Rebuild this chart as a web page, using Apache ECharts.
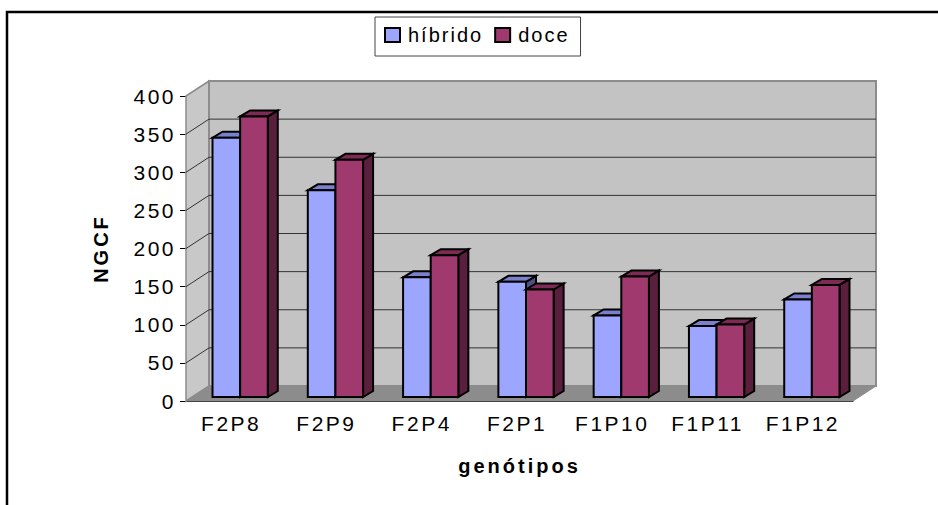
<!DOCTYPE html>
<html>
<head>
<meta charset="utf-8">
<style>
  html, body { margin: 0; padding: 0; background: #fff; }
  #chart { width: 938px; height: 505px; }
  #chart text { letter-spacing: 2.5px; }
  #chart text[style*="20px"] { letter-spacing: 2px; }
  #chart text[style*="bold"] { letter-spacing: 3px; }
</style>
<script src="https://cdn.jsdelivr.net/npm/echarts@6/dist/echarts.min.js"></script>
</head>
<body>
<div id="chart"></div>
<script>
const categories = ["F2P8", "F2P9", "F2P4", "F2P1", "F1P10", "F1P11", "F1P12"];
const hibrido = [340, 271, 157, 151, 107, 93, 128];
const doce = [368, 311, 186, 141, 158, 95, 147];
const yTicks = [0, 50, 100, 150, 200, 250, 300, 350, 400];

// fake 3d offsets, px
const WALL_DX = 23, WALL_DY = -15;
const BAR_DX = 6.5, BAR_DY = -4;
const DEPTH_DX = 10, DEPTH_DY = -6;

const poly = (points, fill, stroke, lineWidth) => ({
  type: "polygon",
  shape: { points },
  style: { fill, stroke, lineWidth, lineJoin: "miter" },
});

function renderWalls(params, api) {
  const cs = params.coordSys;
  const x0 = cs.x, x1 = cs.x + cs.width;
  const y0 = api.coord([0, 0])[1];
  const yTop = api.coord([0, 400])[1];
  const children = [
    // left wall
    poly([[x0, y0], [x0 + WALL_DX, y0 + WALL_DY], [x0 + WALL_DX, yTop + WALL_DY], [x0, yTop]], "#c8c8c8", "#8c8c8c", 1.5),
    // back wall
    poly([[x0 + WALL_DX, y0 + WALL_DY], [x1 + WALL_DX, y0 + WALL_DY], [x1 + WALL_DX, yTop + WALL_DY], [x0 + WALL_DX, yTop + WALL_DY]], "#c3c3c3", "#8c8c8c", 2),
    // floor
    poly([[x0, y0], [x1, y0], [x1 + WALL_DX, y0 + WALL_DY], [x0 + WALL_DX, y0 + WALL_DY]], "#8c8c8c", "#8c8c8c", 1),
  ];
  yTicks.slice(1, -1).forEach((v) => {
    const y = api.coord([0, v])[1];
    children.push({
      type: "polyline",
      shape: { points: [[x0, y], [x0 + WALL_DX, y + WALL_DY], [x1 + WALL_DX, y + WALL_DY]] },
      style: { fill: "none", stroke: "#333", lineWidth: 1 },
    });
  });
  return { type: "group", children };
}

function barRenderer(side, front, top, dark) {
  return function (params, api) {
    const p = api.coord([api.value(0), api.value(1)]);
    const base = api.coord([api.value(0), 0]);
    const w = api.size([1, 0])[0] * 0.29;
    const x0 = p[0] + BAR_DX + (side < 0 ? -w : 0);
    const x1 = x0 + w;
    const yT = p[1] + BAR_DY;
    const yB = base[1] + BAR_DY;
    const dx = DEPTH_DX, dy = DEPTH_DY;
    return {
      type: "group",
      children: [
        poly([[x1, yT], [x1 + dx, yT + dy], [x1 + dx, yB + dy], [x1, yB]], dark, "#000", 2),
        poly([[x0, yT], [x0 + dx, yT + dy], [x1 + dx, yT + dy], [x1, yT]], top, "#000", 2),
        poly([[x0, yT], [x1, yT], [x1, yB], [x0, yB]], front, "#000", 2),
      ],
    };
  };
}

const chart = echarts.init(document.getElementById("chart"), null, { renderer: "svg" });

chart.setOption({
  animation: false,
  backgroundColor: "#fff",
  textStyle: { fontFamily: "Liberation Sans", color: "#000" },
  graphic: [
    {
      type: "rect",
      silent: true,
      z: -10,
      shape: { x: 7, y: 12, width: 1000, height: 600 },
      style: { fill: "none", stroke: "#000", lineWidth: 2.5 },
    },
  ],
  legend: {
    top: 17,
    left: 375,
    data: [
      { name: "híbrido", icon: "rect" },
      { name: "doce", icon: "rect" },
    ],
    itemWidth: 15,
    itemHeight: 14,
    itemGap: 25,
    padding: [8, 19, 11, 9],
    borderColor: "#444",
    borderWidth: 1,
    textStyle: { fontSize: 20, fontFamily: "Liberation Sans", color: "#000", padding: [0, 0, 4, 3] },
  },
  grid: { left: 186, right: 85, top: 96, bottom: 104 },
  xAxis: {
    type: "category",
    data: categories,
    name: "genótipos",
    nameLocation: "middle",
    nameGap: 55,
    nameTextStyle: { fontSize: 20, fontWeight: "bold", fontFamily: "Liberation Sans", color: "#000" },
    axisLine: { lineStyle: { color: "#000", width: 1 } },
    axisTick: { length: 6, lineStyle: { color: "#000" } },
    axisLabel: { fontSize: 21, margin: 12, color: "#000", interval: 0, fontFamily: "Liberation Sans", padding: [0, 5, 0, 0] },
  },
  yAxis: {
    type: "value",
    min: 0,
    max: 400,
    interval: 50,
    name: "NGCF",
    nameLocation: "middle",
    nameGap: 75,
    nameTextStyle: { fontSize: 20, fontWeight: "bold", fontFamily: "Liberation Sans", color: "#000" },
    axisLine: { show: true, lineStyle: { color: "#000", width: 1 } },
    axisTick: { show: true, length: 6, lineStyle: { color: "#000" } },
    axisLabel: { fontSize: 21, margin: 10, color: "#000", fontFamily: "Liberation Sans" },
    splitLine: { show: false },
  },
  series: [
    {
      name: "walls",
      type: "custom",
      data: [[0, 0]],
      clip: false,
      z: 1,
      silent: true,
      renderItem: renderWalls,
    },
    {
      name: "híbrido",
      type: "custom",
      data: hibrido.map((v, i) => [i, v]),
      encode: { x: 0, y: 1 },
      clip: false,
      z: 3,
      itemStyle: { color: "#9da6ff", borderColor: "#000", borderWidth: 2 },
      renderItem: barRenderer(-1, "#9da6ff", "#7a80cc", "#4d5080"),
    },
    {
      name: "doce",
      type: "custom",
      data: doce.map((v, i) => [i, v]),
      encode: { x: 0, y: 1 },
      clip: false,
      z: 4,
      itemStyle: { color: "#a03a6e", borderColor: "#000", borderWidth: 2 },
      renderItem: barRenderer(1, "#a03a6e", "#7d2b55", "#5a1f3c"),
    },
  ],
});

window.addEventListener("resize", () => chart.resize());
</script>
</body>
</html>
